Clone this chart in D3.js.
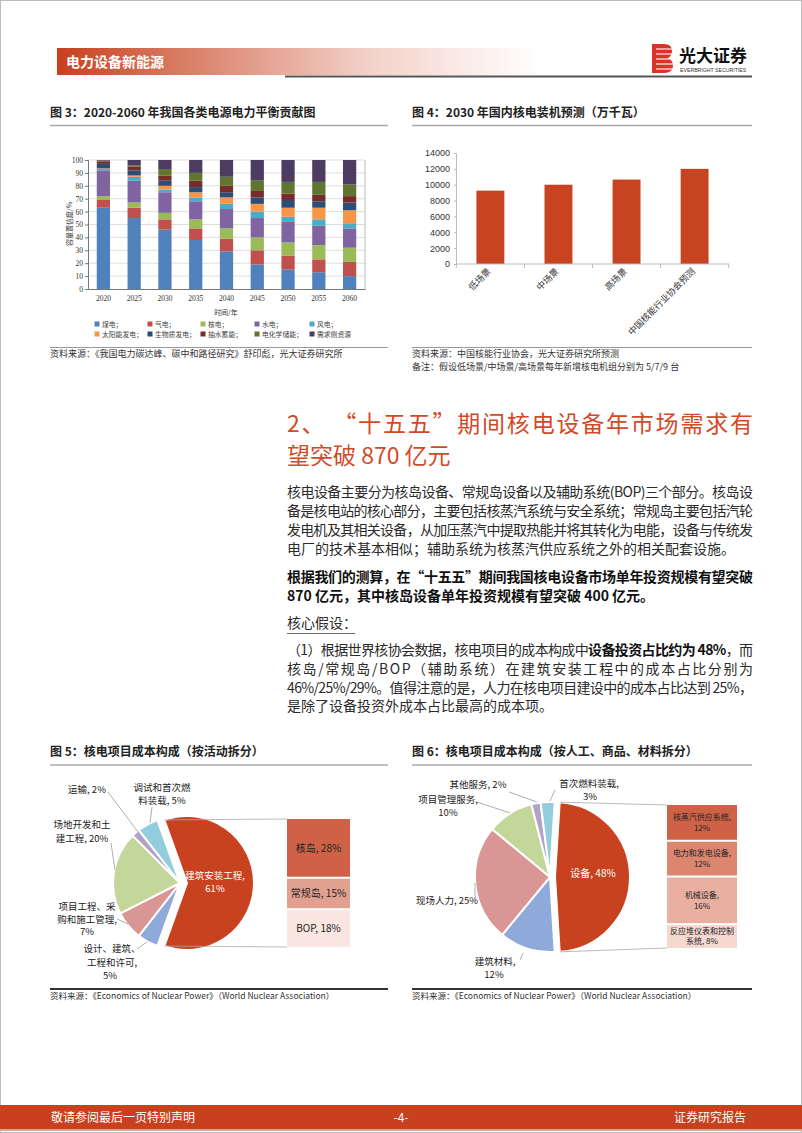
<!DOCTYPE html>
<html><head><meta charset="utf-8">
<script src="https://cdn.jsdelivr.net/npm/d3@7"></script>
<style>body{margin:0;background:#fff}svg{display:block}</style>
</head><body>
<svg id="page" width="802" height="1133"></svg>
<script>
// ---------- DATA ----------
// Figure 3
const years = ["2020","2025","2030","2035","2040","2045","2050","2055","2060"];
const sourceNames = ["煤电","气电","核电","水电","风电","太阳能发电","生物质发电","抽水蓄能","电化学储能","需求侧资源"];
const coal    = [63,55,46,38,29,19,15,13,10];
const gas     = [6,8,8,9,10,11,11,10,11];
const nuclear = [3,4,5,7,8,10,10,11,11];
const hydro   = [20,17,16,14,15,15,16,15,15];
const wind    = [1,3,2,3,4,5,4,5,4];
const solar   = [0.5,1,3,4,5,6,7,9,10];
const biomass = [3.5,4,4,4,4,5,6,5,6];
const pumped  = [2,3,4,5,5,5,5,5,5];
const electro = [0.5,1,5,6,7,8,9,10,9];
const demand  = [0.5,4,7,10,13,16,17,17,19];
const yTicks3 = [0,10,20,30,40,50,60,70,80,90,100];
// Figure 4
const scenarios = ["低场景","中场景","高场景","中国核能行业协会预测"];
const capacity  = [9250,10000,10650,12000];
const yTicks4 = [0,2000,4000,6000,8000,10000,12000,14000];
// Figure 5
const act5Names  = ["建筑安装工程","设计、建筑、工程和许可","项目工程、采购和施工管理","场地开发和土建工程","运输","调试和首次燃料装载"];
const act5Values = [61,5,7,20,2,5];
const sub5Names  = ["核岛","常规岛","BOP"];
const sub5Values = [28,15,18];
// Figure 6
const cat6Names  = ["设备","建筑材料","现场人力","项目管理服务","其他服务","首次燃料装载"];
const cat6Values = [48,12,25,10,2,3];
const sub6Names  = ["核蒸汽供应系统","电力和发电设备","机械设备","反应堆仪表和控制系统"];
const sub6Values = [12,12,16,8];

// ---------- STYLE ----------
const CJK = "'Noto Sans CJK SC','Noto Sans',sans-serif";
const SERIF = "'Liberation Serif','DejaVu Serif',serif";
const SANS = "'Liberation Sans','Noto Sans CJK SC',sans-serif";
const RED = "#C8401E";
const srcColors = ["#4F81BD","#C0504D","#9BBB59","#8064A2","#4BACC6","#F79646","#2C4D75","#772C2A","#5F7530","#4D3B62"];
const pieColors = ["#C9421F","#8EAADB","#DA9694","#C4D79B","#B3A2C7","#92CDDD"];

const svg = d3.select("#page");
svg.append("rect").attr("width",802).attr("height",1133).attr("fill","#fff");
svg.append("rect").attr("x",0.5).attr("y",0.5).attr("width",801).attr("height",1132).attr("fill","none").attr("stroke","#bbb").attr("stroke-width",1);

function txt(x,y,s,o={}){
  const t = svg.append("text").attr("x",x).attr("y",y).text(s)
    .attr("font-family",o.ff||CJK).attr("font-size",o.fs||12).attr("fill",o.fill||"#222")
    .attr("font-weight",o.fw||"normal").attr("text-anchor",o.anchor||"start");
  if(o.tl){t.attr("textLength",o.tl).attr("lengthAdjust","spacing");}
  return t;
}
function hline(x1,x2,y,c,w){svg.append("line").attr("x1",x1).attr("x2",x2).attr("y1",y).attr("y2",y).attr("stroke",c).attr("stroke-width",w);}
function seg(pts,c="#999",w=0.8){svg.append("polyline").attr("points",pts.map(p=>p.join(",")).join(" ")).attr("fill","none").attr("stroke",c).attr("stroke-width",w);}

// ---------- HEADER ----------
const defs = svg.append("defs");
const gr = defs.append("linearGradient").attr("id","hdr").attr("x1","0").attr("x2","1").attr("y1","0").attr("y2","0");
gr.append("stop").attr("offset","0").attr("stop-color","#C8401E");
gr.append("stop").attr("offset","0.3").attr("stop-color","#DC8670");
gr.append("stop").attr("offset","0.65").attr("stop-color","#F3D3CA");
gr.append("stop").attr("offset","1").attr("stop-color","#ffffff");
svg.append("rect").attr("x",57).attr("y",48).attr("width",485).attr("height",27).attr("fill","url(#hdr)");
txt(66,66.5,"电力设备新能源",{fs:14,fw:"bold",fill:"#fff"});
hline(285,752,76.5,"#555",2);
// logo
const lg = svg.append("g");
lg.append("path").attr("d","M652,44 L664,44 Q672,44 672,51 Q672,56 668,58 Q673,60 673,66 Q673,73 664,73 L652,73 Z").attr("fill","#D9342A");
[49,54,59,64,69].forEach(y=>lg.append("line").attr("x1",656).attr("x2",674).attr("y1",y).attr("y2",y).attr("stroke","#fff").attr("stroke-width",1.1));
txt(679,62,"光大证券",{fs:17,fw:"bold",fill:"#111"});
txt(680,71.5,"EVERBRIGHT SECURITIES",{fs:5.2,ff:SANS,fill:"#333"});

// ---------- FIGURE TITLES ----------
txt(50,117,"图 3：2020-2060  年我国各类电源电力平衡贡献图",{fs:12,fw:"bold"});
hline(50,388,125.5,"#aaa",1.6);
txt(412,117,"图 4：2030 年国内核电装机预测（万千瓦）",{fs:12,fw:"bold"});
hline(412,752,125.5,"#aaa",1.6);

// ---------- FIGURE 3 ----------
const series3 = [coal,gas,nuclear,hydro,wind,solar,biomass,pumped,electro,demand];
const rows3 = years.map((yr,i)=>{const o={year:yr}; sourceNames.forEach((k,j)=>o[k]=series3[j][i]); return o;});
const stacked = d3.stack().keys(sourceNames)(rows3);
const x3 = d3.scaleBand().domain(years).range([88,365]).paddingInner(0.57).paddingOuter(0.285);
const y3 = d3.scaleLinear().domain([0,100]).range([289,160]);
const g3 = svg.append("g");
g3.selectAll(".grid").data(yTicks3.slice(1)).join("line").attr("x1",88).attr("x2",365)
  .attr("y1",d=>y3(d)).attr("y2",d=>y3(d)).attr("stroke","#d6d6d6").attr("stroke-width",0.8);
g3.append("line").attr("x1",365).attr("x2",365).attr("y1",160).attr("y2",289).attr("stroke","#aaa").attr("stroke-width",0.8);
g3.selectAll(".layer").data(stacked).join("g").attr("fill",(d,i)=>srcColors[i])
  .selectAll("rect").data(d=>d).join("rect")
  .attr("x",d=>x3(d.data.year)).attr("width",x3.bandwidth())
  .attr("y",d=>y3(d[1])).attr("height",d=>y3(d[0])-y3(d[1]));
const ax3 = g3.append("g").attr("transform","translate(88,0)").call(d3.axisLeft(y3).tickValues(yTicks3).tickSize(3).tickPadding(2));
ax3.select(".domain").attr("stroke","#777");
ax3.selectAll(".tick line").attr("stroke","#777");
ax3.selectAll("text").attr("font-family",SERIF).attr("font-size",7.5).attr("fill","#333");
const bx3 = g3.append("g").attr("transform","translate(0,289)").call(d3.axisBottom(x3).tickSize(0).tickPadding(7));
bx3.select(".domain").attr("stroke","#777");
bx3.selectAll("text").attr("font-family",SERIF).attr("font-size",7.5).attr("fill","#333");
svg.append("text").attr("transform","translate(72,224) rotate(-90)").attr("text-anchor","middle")
  .attr("font-family",CJK).attr("font-size",7).attr("fill","#333").text("容量置信度/%");
txt(226,315,"时间/年",{fs:7,anchor:"middle",fill:"#333"});
// legend
const legX = [97,150,203,257,312], legY = [324,334];
sourceNames.forEach((n,i)=>{
  const cx = legX[i%5], cy = legY[Math.floor(i/5)];
  svg.append("rect").attr("x",cx-2.5).attr("y",cy-2.5).attr("width",5).attr("height",5).attr("fill",srcColors[i]);
  txt(cx+5,cy+2.5,n+(i===9?"":"；"),{fs:6.8,fill:"#444"});
});
hline(50,388,347.5,"#999",1.2);
txt(50,357,"资料来源：《我国电力碳达峰、碳中和路径研究》舒印彪，光大证券研究所",{fs:9,fill:"#333"});

// ---------- FIGURE 4 ----------
const x4 = d3.scaleBand().domain(scenarios).range([456,729]).paddingInner(0.59).paddingOuter(0.3);
const y4 = d3.scaleLinear().domain([0,14000]).range([264,153]);
const g4 = svg.append("g");
g4.selectAll("rect").data(scenarios).join("rect")
  .attr("x",d=>x4(d)).attr("width",x4.bandwidth())
  .attr("y",(d,i)=>y4(capacity[i])).attr("height",(d,i)=>y4(0)-y4(capacity[i])).attr("fill","#C8431F");
const ax4 = g4.append("g").attr("transform","translate(456,0)").call(d3.axisLeft(y4).tickValues(yTicks4).tickSize(2).tickPadding(4).tickFormat(d3.format("d")));
ax4.select(".domain").attr("stroke","#bbb");
ax4.selectAll(".tick line").attr("stroke","#bbb");
ax4.selectAll("text").attr("font-family",SANS).attr("font-size",9).attr("fill","#333");
g4.append("line").attr("x1",456).attr("x2",729).attr("y1",264).attr("y2",264).attr("stroke","#bbb");
const st4 = x4.step();
scenarios.forEach((d,i)=>{
  const bx = x4(d)+x4.bandwidth()/2 - st4/2;
  g4.append("line").attr("x1",bx).attr("x2",bx).attr("y1",264).attr("y2",268).attr("stroke","#bbb");
  if(i===scenarios.length-1) g4.append("line").attr("x1",bx+st4).attr("x2",bx+st4).attr("y1",264).attr("y2",268).attr("stroke","#bbb");
});
g4.selectAll(".xl").data(scenarios).join("text")
  .attr("transform",d=>`translate(${x4(d)+x4.bandwidth()/2+1},272) rotate(-45)`)
  .attr("text-anchor","end").attr("font-family",CJK).attr("font-size",9).attr("fill","#333").text(d=>d);
hline(412,752,347.5,"#999",1.2);
txt(412,357,"资料来源：中国核能行业协会，光大证券研究所预测",{fs:9,fill:"#333"});
txt(412,370,"备注：假设低场景/中场景/高场景每年新增核电机组分别为 5/7/9 台",{fs:9,fill:"#333"});

// ---------- TEXT SECTION ----------
const HR = "#D24A28";
txt(287,432,"2、 “十五五”期间核电设备年市场需求有",{fs:23,fill:HR,tl:466});
txt(287,464,"望突破 870 亿元",{fs:23,fill:HR});
const BODY = "#2a2a2a";
const p1 = ["核电设备主要分为核岛设备、常规岛设备以及辅助系统(BOP)三个部分。核岛设",
            "备是核电站的核心部分，主要包括核蒸汽系统与安全系统；常规岛主要包括汽轮",
            "发电机及其相关设备，从加压蒸汽中提取热能并将其转化为电能，设备与传统发",
            "电厂的技术基本相似；辅助系统为核蒸汽供应系统之外的相关配套设施。"];
[497,516,535,554].forEach((y,i)=>txt(287,y,p1[i],{fs:14,fill:BODY,tl:i<3?466:null}));
txt(287,582,"根据我们的测算，在“十五五”期间我国核电设备市场单年投资规模有望突破",{fs:14,fw:"bold",fill:"#111",tl:466});
txt(287,601,"870 亿元，其中核岛设备单年投资规模有望突破 400 亿元。",{fs:14,fw:"bold",fill:"#111"});
txt(287,628,"核心假设：",{fs:14,fill:BODY});
hline(287,355,633.5,"#444",0.8);
const l1 = svg.append("text").attr("x",287).attr("y",655).attr("font-family",CJK).attr("font-size",14).attr("fill",BODY)
  .attr("textLength",466).attr("lengthAdjust","spacing");
l1.append("tspan").text("（1）根据世界核协会数据，核电项目的成本构成中");
l1.append("tspan").attr("font-weight","bold").attr("fill","#111").text("设备投资占比约为 48%");
l1.append("tspan").text("，而");
txt(287,674,"核岛/常规岛/BOP（辅助系统）在建筑安装工程中的成本占比分别为",{fs:14,fill:BODY,tl:466});
txt(287,693,"46%/25%/29%。值得注意的是，人力在核电项目建设中的成本占比达到 25%，",{fs:14,fill:BODY,tl:466});
txt(287,711,"是除了设备投资外成本占比最高的成本项。",{fs:14,fill:BODY});

// ---------- FIGURE 5/6 TITLES ----------
txt(50,756,"图 5：核电项目成本构成（按活动拆分）",{fs:12,fw:"bold"});
hline(50,388,765,"#aaa",1.6);
txt(412,756,"图 6：核电项目成本构成（按人工、商品、材料拆分）",{fs:12,fw:"bold"});
hline(412,752,765,"#aaa",1.6);

function drawPie(cx,cy,r,vals,startDeg,explode){
  const a0 = startDeg*Math.PI/180;
  const arcs = d3.pie().sort(null).startAngle(a0).endAngle(a0+2*Math.PI)(vals);
  const arc = d3.arc().innerRadius(0).outerRadius(r);
  const g = svg.append("g");
  const centers = arcs.map((d,i)=>{
    const m=(d.startAngle+d.endAngle)/2, e=i===0?explode:0;
    return [cx+e*Math.sin(m), cy-e*Math.cos(m)];
  });
  g.selectAll("path").data(arcs).join("path").attr("d",arc)
    .attr("transform",(d,i)=>`translate(${centers[i][0]},${centers[i][1]})`)
    .attr("fill",(d,i)=>pieColors[i]).attr("stroke","#fff").attr("stroke-width",2);
  const c0 = centers[0], s=arcs[0];
  const top = [c0[0]+r*Math.sin(s.startAngle), c0[1]-r*Math.cos(s.startAngle)];
  const bot = [c0[0]+r*Math.sin(s.endAngle), c0[1]-r*Math.cos(s.endAngle)];
  return {top,bot};
}
function drawStack(x,w,y0,y1,vals,colors,labels,fs){
  const tot = d3.sum(vals);
  const ys = d3.scaleLinear().domain([0,tot]).range([y0,y1]);
  let cum=0;
  vals.forEach((v,i)=>{
    const a=ys(cum), b=ys(cum+v); cum+=v;
    svg.append("rect").attr("x",x).attr("y",a+(i?1:0)).attr("width",w).attr("height",b-a-(i?1:0)-(i<vals.length-1?1:0)).attr("fill",colors[i]);
    const lines = labels[i], mid=(a+b)/2, lh=fs*1.35;
    lines.forEach((s,k)=>txt(x+w/2, mid + (k-(lines.length-1)/2)*lh + fs*0.36, s,{fs:fs,anchor:"middle",fill:"#222"}));
  });
}

// ---------- FIGURE 5 ----------
const p5 = drawPie(180,883,67,act5Values,-19.8,7);
seg([p5.top,[287,819]],"#aaa",0.8);
seg([p5.bot,[287,947]],"#aaa",0.8);
drawStack(287,63,819,947,sub5Values,["#CF6246","#E2A190","#F9E6E0"],
  sub5Names.map((n,i)=>[n+", "+sub5Values[i]+"%"]),10);
const L5 = 9.5;
txt(87,793,act5Names[4]+", "+act5Values[4]+"%",{fs:L5,anchor:"middle"});
txt(162,790.5,"调试和首次燃",{fs:L5,anchor:"middle"});
txt(162,803.5,"料装载, "+act5Values[5]+"%",{fs:L5,anchor:"middle"});
txt(82,827.5,"场地开发和土",{fs:L5,anchor:"middle"});
txt(82,841.5,"建工程, "+act5Values[3]+"%",{fs:L5,anchor:"middle"});
txt(215,878.5,"建筑安装工程,",{fs:9.5,anchor:"middle",fill:"#fff"});
txt(215,891.5,act5Values[0]+"%",{fs:9.5,anchor:"middle",fill:"#fff"});
txt(87,910,"项目工程、采",{fs:L5,anchor:"middle"});
txt(87,922.5,"购和施工管理,",{fs:L5,anchor:"middle"});
txt(87,935,act5Values[2]+"%",{fs:L5,anchor:"middle"});
txt(112,952,"设计、建筑、",{fs:L5,anchor:"middle"});
txt(112,965.5,"工程和许可,",{fs:L5,anchor:"middle"});
txt(110,978.5,act5Values[1]+"%",{fs:L5,anchor:"middle"});
seg([[108,792],[138,832]]);
seg([[152,807],[150,823]]);
seg([[111,843],[115,870]]);
seg([[117,919],[128,924]]);
seg([[137,949],[147,942]]);
hline(50,388,989,"#333",2);
txt(50,999,"资料来源：《Economics of Nuclear Power》（World Nuclear Association）",{fs:8.5,fill:"#333"});

// ---------- FIGURE 6 ----------
const p6 = drawPie(550,877,75,cat6Values,3.6,5);
seg([p6.top,[667,805]],"#aaa",0.8);
seg([p6.bot,[667,948]],"#aaa",0.8);
drawStack(667,70,805,948,sub6Values,["#CF6246","#DC8670","#E9B0A2","#F5D8CF"],
  [[sub6Names[0]+",",sub6Values[0]+"%"],[sub6Names[1]+",",sub6Values[1]+"%"],[sub6Names[2]+",",sub6Values[2]+"%"],["反应堆仪表和控制","系统, "+sub6Values[3]+"%"]],8);
const L6 = 9.5;
txt(478,787.5,cat6Names[4]+", "+cat6Values[4]+"%",{fs:L6,anchor:"middle"});
txt(589,787,cat6Names[5]+",",{fs:L6,anchor:"middle"});
txt(590,800,cat6Values[5]+"%",{fs:L6,anchor:"middle"});
txt(448,803,cat6Names[3]+",",{fs:L6,anchor:"middle"});
txt(448,816,cat6Values[3]+"%",{fs:L6,anchor:"middle"});
txt(447,903.5,cat6Names[2]+", "+cat6Values[2]+"%",{fs:L6,anchor:"middle"});
txt(495,965,cat6Names[1]+",",{fs:L6,anchor:"middle"});
txt(494,978,cat6Values[1]+"%",{fs:L6,anchor:"middle"});
txt(593,877,cat6Names[0]+", "+cat6Values[0]+"%",{fs:10,anchor:"middle",fill:"#fff"});
seg([[509,792],[537,802]]);
seg([[555,790],[550,801]]);
seg([[477,802],[510,813]]);
seg([[475,883],[475,903]]);
seg([[520,960],[523,953]]);
hline(412,752,989,"#333",2);
txt(412,999,"资料来源：《Economics of Nuclear Power》（World Nuclear Association）",{fs:8.5,fill:"#333"});

// ---------- FOOTER ----------
svg.append("rect").attr("x",0).attr("y",1105).attr("width",802).attr("height",24).attr("fill",RED);
svg.append("rect").attr("x",0).attr("y",1129).attr("width",802).attr("height",2).attr("fill","#d8a597");
txt(51,1121.5,"敬请参阅最后一页特别声明",{fs:12,fill:"#fff"});
txt(401,1121.5,"-4-",{fs:12,fill:"#fff",anchor:"middle"});
txt(746,1121.5,"证券研究报告",{fs:12,fill:"#fff",anchor:"end"});
</script>
</body></html>
